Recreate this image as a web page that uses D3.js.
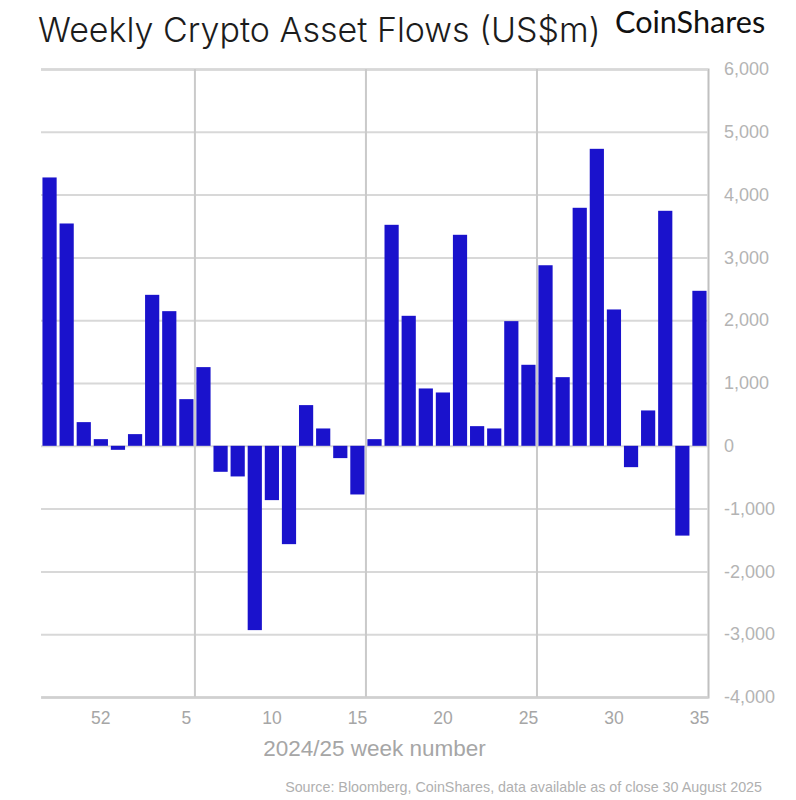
<!DOCTYPE html>
<html>
<head>
<meta charset="utf-8">
<script src="https://cdn.jsdelivr.net/npm/d3@7"></script>
<style>
  html, body { margin: 0; padding: 0; background: #fff; }
  svg { display: block; }
  text { font-family: "Liberation Sans", Arial, sans-serif; }
</style>
</head>
<body>
<div id="chart"></div>
<script>
const weeks = [49, 50, 51, 52, 1, 2, 3, 4, 5, 6, 7, 8, 9, 10, 11, 12, 13, 14, 15, 16,
  17, 18, 19, 20, 21, 22, 23, 24, 25, 26, 27, 28, 29, 30, 31, 32, 33, 34, 35];
const flows = [4273, 3540, 377, 106, -64, 186, 2404, 2144, 743, 1253,
  -414, -488, -2935, -865, -1566, 648, 276, -196, -775, 106,
  3519, 2070, 913, 849, 3360, 313, 276, 1985, 1290, 2875,
  1093, 3790, 4729, 2171, -340, 563, 3742, -1430, 2468];
const weekTicks = [52, 5, 10, 15, 20, 25, 30, 35];
const gridWeeks = [5, 15, 25];
const valueTicks = [6000, 5000, 4000, 3000, 2000, 1000, 0, -1000, -2000, -3000, -4000];

main();

function main() {
  const width = 796;
  const height = 800;
  const margin = { top: 69, right: 88, bottom: 103, left: 41 };

  const svg = d3.select("#chart").append("svg")
    .attr("width", width)
    .attr("height", height);

  const x = d3.scaleBand()
    .domain(weeks)
    .range([margin.left, width - margin.right])
    .paddingInner(0.17)
    .paddingOuter(0.085);

  const y = d3.scaleLinear()
    .domain([-4000, 6000])
    .range([height - margin.bottom, margin.top]);

  // plain hyphen for negatives, like the original
  const valueFormat = d3.formatLocale({
    decimal: ".", thousands: ",", grouping: [3], currency: ["$", ""], minus: "-"
  }).format(",d");

  // horizontal grid + value labels on the right
  const yAxis = svg.append("g")
    .attr("transform", `translate(${width - margin.right},0)`)
    .call(d3.axisRight(y)
      .tickValues(valueTicks)
      .tickFormat(valueFormat)
      .tickSize(-(width - margin.left - margin.right))
      .tickPadding(16));
  yAxis.select(".domain").attr("stroke", "#c0c0c0").attr("stroke-width", 2);
  yAxis.selectAll("line").attr("stroke", "#d8d8d8").attr("stroke-width", 2);
  yAxis.selectAll("text")
    .attr("fill", "#b4b4b4")
    .style("font-size", "18px");

  // vertical dividers sit on the right edge of every tenth week
  const step = x.step();
  svg.append("g").selectAll("line")
    .data(gridWeeks)
    .join("line")
    .attr("x1", d => x(d) + x.bandwidth() + (step - x.bandwidth()) / 2)
    .attr("x2", d => x(d) + x.bandwidth() + (step - x.bandwidth()) / 2)
    .attr("y1", margin.top)
    .attr("y2", height - margin.bottom)
    .attr("stroke", "#cacaca")
    .attr("stroke-width", 2);

  // bars
  svg.append("g").selectAll("rect")
    .data(flows)
    .join("rect")
    .attr("x", (d, i) => x(weeks[i]))
    .attr("y", d => y(Math.max(0, d)))
    .attr("width", x.bandwidth())
    .attr("height", d => Math.abs(y(d) - y(0)))
    .attr("fill", "#1a12cc");

  // week labels
  const xAxis = svg.append("g")
    .attr("transform", `translate(0,${height - margin.bottom})`)
    .call(d3.axisBottom(x)
      .tickValues(weekTicks)
      .tickSize(0)
      .tickPadding(15));
  xAxis.select(".domain").attr("stroke", "#d0d0d0").attr("stroke-width", 2);
  xAxis.selectAll("text")
    .attr("fill", "#a6a6a6")
    .style("font-size", "17.5px");

  svg.append("text")
    .attr("x", 374.5)
    .attr("y", 756)
    .attr("text-anchor", "middle")
    .attr("fill", "#a6a6a6")
    .style("font-size", "22.5px")
    .text("2024/25 week number");

  svg.append("text")
    .attr("x", 762)
    .attr("y", 792)
    .attr("text-anchor", "end")
    .attr("fill", "#b0b0b0")
    .style("font-size", "14.3px")
    .text("Source: Bloomberg, CoinShares, data available as of close 30 August 2025");

  svg.append("text")
    .attr("x", 38)
    .attr("y", 42)
    .attr("fill", "#1c1c1c")
    .style("font-size", "34px")
    .style("font-weight", "300")
    .style("font-family", "Inter, sans-serif")
    .text("Weekly Crypto Asset Flows (US$m)");

  svg.append("text")
    .attr("x", 615)
    .attr("y", 33)
    .attr("fill", "#111")
    .style("font-size", "30.6px")
    .style("font-weight", "400")
    .style("font-family", "Lato, sans-serif")
    .text("CoinShares");
}
</script>
</body>
</html>
